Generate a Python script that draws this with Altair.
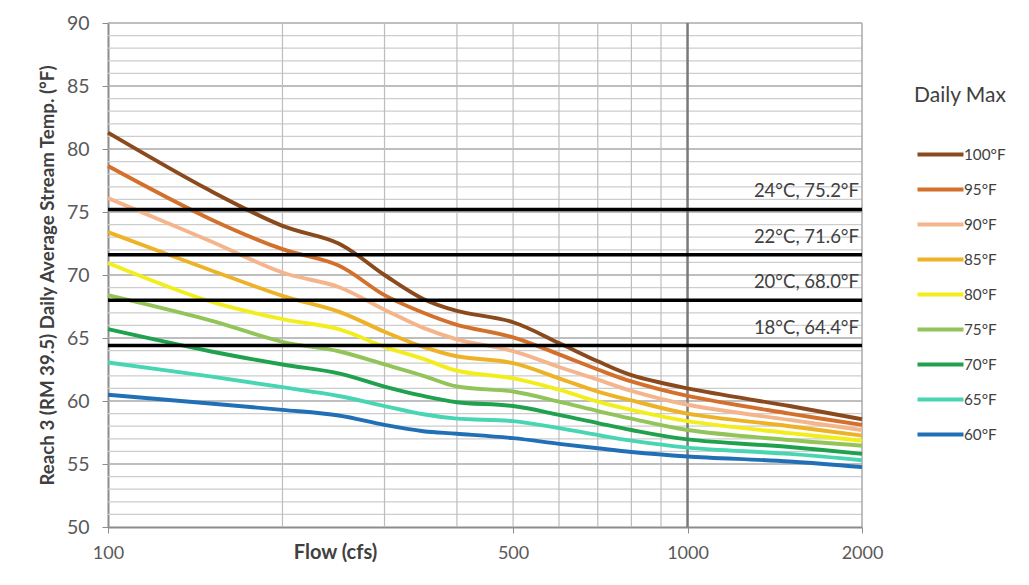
import altair as alt
import pandas as pd

flows = [100, 150, 200, 250, 300, 350, 400, 500, 600, 700, 800, 1000, 1500, 2000]
series_names = ["100°F", "95°F", "90°F", "85°F", "80°F", "75°F", "70°F", "65°F", "60°F"]
series_colors = ["#8B4A1E", "#D2702C", "#F5B58C", "#EEB227", "#F2EE1E", "#92C45A", "#20A14E", "#48D5B2", "#2170B6"]

t100 = [81.3, 76.7, 73.9, 72.5, 70.0, 68.1, 67.15, 66.25, 64.6, 63.15, 62.05, 61.0, 59.6, 58.55]
t95 = [78.65, 74.45, 72.05, 70.75, 68.4, 67.0, 66.05, 65.05, 63.7, 62.5, 61.55, 60.4, 59.0, 58.1]
t90 = [76.1, 72.7, 70.2, 69.05, 67.25, 65.8, 64.9, 63.95, 62.7, 61.7, 60.8, 59.7, 58.5, 57.7]
t85 = [73.4, 70.4, 68.35, 67.1, 65.5, 64.3, 63.55, 63.0, 61.8, 60.75, 60.05, 59.0, 58.0, 57.25]
t80 = [70.95, 67.9, 66.5, 65.7, 64.3, 63.35, 62.4, 61.8, 60.9, 59.95, 59.3, 58.4, 57.45, 56.85]
t75 = [68.4, 66.4, 64.7, 63.95, 62.9, 62.0, 61.15, 60.75, 59.95, 59.2, 58.6, 57.7, 56.9, 56.45]
t70 = [65.7, 63.95, 62.9, 62.2, 61.15, 60.4, 59.9, 59.6, 58.9, 58.25, 57.7, 56.95, 56.35, 55.8]
t65 = [63.06, 61.95, 61.1, 60.4, 59.6, 58.95, 58.6, 58.4, 57.85, 57.3, 56.85, 56.3, 55.8, 55.3]
t60 = [60.5, 59.8, 59.3, 58.85, 58.1, 57.6, 57.4, 57.05, 56.6, 56.25, 55.95, 55.6, 55.2, 54.75]
all_series = [t100, t95, t90, t85, t80, t75, t70, t65, t60]

thresh_values = [75.2, 71.6, 68.0, 64.4]
thresh_labels = ["24°C, 75.2°F", "22°C, 71.6°F", "20°C, 68.0°F", "18°C, 64.4°F"]

x_tick_values = [100, 500, 1000, 2000]
y_tick_values = [50, 55, 60, 65, 70, 75, 80, 85, 90]
minor_y = [v for v in range(51, 90) if v % 5 != 0]
major_y = [55, 60, 65, 70, 75, 80, 85, 90]
light_vgrid = [200, 300, 400, 500, 600, 700, 800, 900]
dark_vgrid = [1000]
edge_vgrid = [2000]

rows = []
for name, vals in zip(series_names, all_series):
    for f, v in zip(flows, vals):
        rows.append({"flow": f, "temp": v, "series": name})
df = pd.DataFrame(rows)

xscale = alt.Scale(type="log", domain=[100, 2000], nice=False)
yscale = alt.Scale(domain=[50, 90], nice=False, zero=False)

x_axis = alt.Axis(
    values=x_tick_values,
    format="d",
    grid=False,
    title="Flow (cfs)",
    titleX=227,
    titleY=25,
    titleAlign="center",
    titleBaseline="middle",
    titleFontSize=20,
    titleFontWeight="bold",
    titleColor="#404040",
    labelFontSize=18,
    labelColor="#595959",
    labelPadding=11,
    tickSize=6,
    tickColor="#8c8c8c",
    domainColor="#8c8c8c",
    domainWidth=2,
    labelFlush=False,
)
y_axis = alt.Axis(
    values=y_tick_values,
    grid=False,
    title="Reach 3 (RM 39.5) Daily Average Stream Temp. (°F)",
    titleX=-61,
    titleY=252,
    titleAngle=270,
    titleAlign="center",
    titleBaseline="middle",
    titleFontSize=18.7,
    titleFontWeight="bold",
    titleColor="#404040",
    labelFontSize=19.5,
    labelColor="#595959",
    labelPadding=13,
    tickSize=6,
    tickColor="#8c8c8c",
    domainColor="#8c8c8c",
    domainWidth=2,
)

def X(field):
    return alt.X(field, scale=xscale, axis=x_axis)

def Y(field):
    return alt.Y(field, scale=yscale, axis=y_axis)

def hrules(vals, color, width):
    return alt.Chart(pd.DataFrame({"v": vals})).mark_rule(color=color, strokeWidth=width).encode(
        y=Y("v:Q")
    )

def vrules(vals, color, width):
    return alt.Chart(pd.DataFrame({"v": vals})).mark_rule(color=color, strokeWidth=width).encode(
        x=X("v:Q")
    )

grid = alt.layer(
    hrules(minor_y, "#cdcdcd", 1.2),
    hrules(major_y, "#a8a8a8", 1.5),
    vrules(light_vgrid, "#bdbdbd", 1.2),
    vrules(edge_vgrid, "#a8a8a8", 1.5),
    vrules(dark_vgrid, "#7a7a7a", 2.5),
)

lines = alt.Chart(df).mark_line(strokeWidth=3.9, interpolate="catmull-rom").encode(
    x=X("flow:Q"),
    y=Y("temp:Q"),
    color=alt.Color(
        "series:N",
        scale=alt.Scale(domain=series_names, range=series_colors),
        sort=series_names,
        legend=alt.Legend(
            title="Daily Max",
            orient="none",
            legendX=806,
            legendY=62,
            symbolType="M-2,0L2,0",
            symbolSize=529,
            symbolStrokeWidth=4,
            symbolOffset=13,
            labelOffset=10,
            rowPadding=13,
            labelFontSize=15.3,
            labelColor="#404040",
            titleFontSize=21,
            titleFontWeight="normal",
            titleColor="#404040",
            titlePadding=35,
        ),
    ),
)

tdf = pd.DataFrame({"v": thresh_values, "label": thresh_labels, "xpos": [2000] * 4})

thresh_lines = alt.Chart(tdf).mark_rule(color="#000000", strokeWidth=3.5).encode(
    y=Y("v:Q")
)
thresh_text = alt.Chart(tdf).mark_text(
    align="right", baseline="bottom", dx=-3, dy=-8, fontSize=18.5, color="#404040"
).encode(
    x=X("xpos:Q"),
    y=Y("v:Q"),
    text="label:N",
)

chart = alt.layer(grid, lines, thresh_lines, thresh_text).properties(
    width=754,
    height=504,
    autosize=alt.AutoSizeParams(type="none"),
    padding={"left": 100, "top": 15, "right": 159, "bottom": 50},
    background="white",
).configure(font="Lato").configure_view(strokeWidth=0)

chart.save("out.html", embed_options={"renderer": "svg", "actions": False})
